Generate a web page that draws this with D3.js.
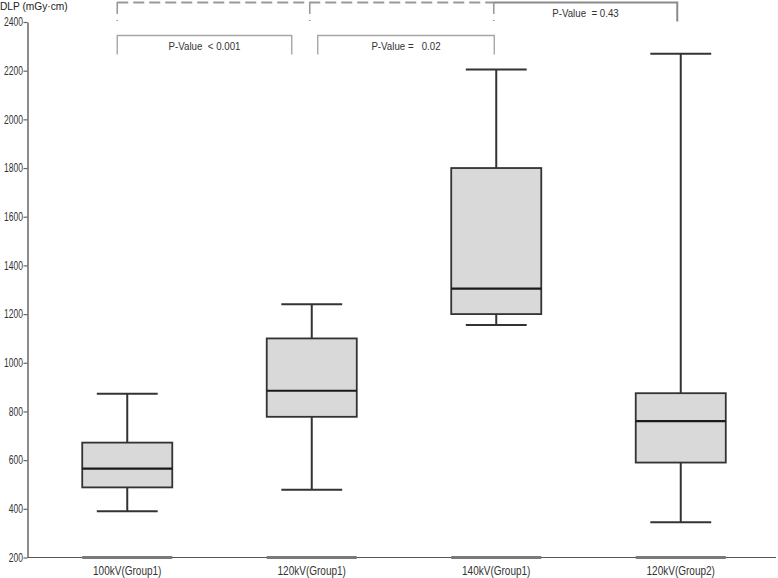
<!DOCTYPE html>
<html>
<head>
<meta charset="utf-8">
<script src="https://cdn.jsdelivr.net/npm/d3@7"></script>
<style>
  html, body { margin: 0; padding: 0; background: #fff; }
  svg { display: block; }
</style>
</head>
<body>
<svg id="chart" width="778" height="578"></svg>
<script>
// ---- Data ----
const categories = ["100kV(Group1)", "120kV(Group1)", "140kV(Group1)", "120kV(Group2)"];
const whiskerLow  = [390, 478, 1155, 345];
const q1          = [488, 778, 1200, 590];
const median      = [565, 885, 1305, 760];
const q3          = [672, 1100, 1800, 875];
const whiskerHigh = [873, 1240, 2205, 2270];
const yTicks = [200, 400, 600, 800, 1000, 1200, 1400, 1600, 1800, 2000, 2200, 2400];
const yTitle = "DLP (mGy·cm)";
const comparisonLabels = ["P-Value  < 0.001", "P-Value =   0.02", "P-Value  = 0.43"];

// ---- Setup ----
const svg = d3.select("#chart");
const x = d3.scalePoint().domain(categories).range([35, 773]).padding(0.5);
const step = x.step();
const boxW = step * 0.488;
const capW = step * 0.33;
const y = d3.scaleLinear().domain([200, 2400]).range([557.5, 22]);

const condensed = "'Liberation Sans', Arial, sans-serif";

// Y title
svg.append("text")
  .attr("x", 0).attr("y", 10)
  .attr("font-family", "'Liberation Sans', Arial, sans-serif")
  .attr("font-size", 10.2)
  .attr("fill", "#222")
  .text(yTitle);

// Y axis
const yAxis = svg.append("g")
  .attr("transform", "translate(27.5,0)")
  .call(d3.axisLeft(y).tickValues(yTicks).tickSize(4).tickSizeOuter(0).tickFormat(d3.format("d")));
yAxis.select(".domain").attr("stroke", "#666").attr("stroke-width", 1.5);
yAxis.selectAll(".tick line").attr("stroke", "#666").attr("stroke-width", 1.2);
yAxis.selectAll(".tick text")
  .attr("font-family", condensed)
  .attr("font-size", 12)
  .attr("fill", "#333")
  .attr("x", 0)
  .attr("transform", "translate(-4.5,0) scale(0.71,1)");

// X axis line
svg.append("line")
  .attr("x1", 28).attr("x2", 776)
  .attr("y1", y(200)).attr("y2", y(200))
  .attr("stroke", "#555").attr("stroke-width", 1);

const data = categories.map((c, i) => ({
  c, lo: whiskerLow[i], q1: q1[i], med: median[i], q3: q3[i], hi: whiskerHigh[i]
}));

// Thick segments on x axis under each box
svg.append("g").selectAll("line").data(data).join("line")
  .attr("x1", d => x(d.c) - boxW / 2).attr("x2", d => x(d.c) + boxW / 2)
  .attr("y1", y(200)).attr("y2", y(200))
  .attr("stroke", "#7a7a7a").attr("stroke-width", 3.2);

// X labels
svg.append("g").selectAll("text").data(data).join("text")
  .attr("x", 0).attr("y", 0)
  .attr("transform", d => `translate(${x(d.c)},575) scale(0.77,1)`)
  .attr("text-anchor", "middle")
  .attr("font-family", condensed)
  .attr("font-size", 13)
  .attr("fill", "#333")
  .text(d => d.c);

// Boxes
const g = svg.append("g").selectAll("g").data(data).join("g");
const stroke = "#333";
g.append("line")
  .attr("x1", d => x(d.c)).attr("x2", d => x(d.c))
  .attr("y1", d => y(d.hi)).attr("y2", d => y(d.q3))
  .attr("stroke", stroke).attr("stroke-width", 2);
g.append("line")
  .attr("x1", d => x(d.c)).attr("x2", d => x(d.c))
  .attr("y1", d => y(d.q1)).attr("y2", d => y(d.lo))
  .attr("stroke", stroke).attr("stroke-width", 2);
g.append("line")
  .attr("x1", d => x(d.c) - capW / 2).attr("x2", d => x(d.c) + capW / 2)
  .attr("y1", d => y(d.hi)).attr("y2", d => y(d.hi))
  .attr("stroke", stroke).attr("stroke-width", 2);
g.append("line")
  .attr("x1", d => x(d.c) - capW / 2).attr("x2", d => x(d.c) + capW / 2)
  .attr("y1", d => y(d.lo)).attr("y2", d => y(d.lo))
  .attr("stroke", stroke).attr("stroke-width", 2);
g.append("rect")
  .attr("x", d => x(d.c) - boxW / 2)
  .attr("width", boxW)
  .attr("y", d => y(d.q3))
  .attr("height", d => y(d.q1) - y(d.q3))
  .attr("fill", "#d9d9d9")
  .attr("stroke", stroke).attr("stroke-width", 1.8);
g.append("line")
  .attr("x1", d => x(d.c) - boxW / 2).attr("x2", d => x(d.c) + boxW / 2)
  .attr("y1", d => y(d.med)).attr("y2", d => y(d.med))
  .attr("stroke", "#1a1a1a").attr("stroke-width", 2.2);

// ---- Significance brackets ----
const cx = i => x(categories[i]);
const ann = svg.append("g");
const pFont = "'Liberation Sans', 'Open Sans', Arial, sans-serif";

const lowBr = [
  { a: cx(0) - 10, b: cx(1) - 20, label: comparisonLabels[0] },
  { a: cx(1) + 6, b: cx(2) - 2, label: comparisonLabels[1] }
];
lowBr.forEach(br => {
  ann.append("path")
    .attr("d", `M${br.a},54.5 V35.5 H${br.b} V54.5`)
    .attr("fill", "none").attr("stroke", "#a6a6a6").attr("stroke-width", 1.4);
  ann.append("text")
    .attr("x", 0).attr("y", 0)
    .attr("transform", `translate(${(br.a + br.b) / 2},49.5) scale(0.9,1)`)
    .attr("text-anchor", "middle")
    .attr("font-family", pFont).attr("font-size", 10.8)
    .attr("fill", "#333")
    .style("white-space", "pre")
    .text(br.label);
});

const dA = cx(0) - 10, dM = cx(1) - 2, dB = cx(2) - 2.5;
ann.append("line")
  .attr("x1", dA).attr("x2", dB).attr("y1", 2.5).attr("y2", 2.5)
  .attr("stroke", "#9a9a9a").attr("stroke-width", 2)
  .attr("stroke-dasharray", "11,5");
[dA, dM, dB].forEach(px => {
  ann.append("line")
    .attr("x1", px).attr("x2", px).attr("y1", 2).attr("y2", 21)
    .attr("stroke", "#9a9a9a").attr("stroke-width", 1.6)
    .attr("stroke-dasharray", "12,6,1.5,40");
});

const sB = cx(3) - 3.5;
ann.append("path")
  .attr("d", `M${dB},2.5 H${sB} V21.5`)
  .attr("fill", "none").attr("stroke", "#8a8a8a").attr("stroke-width", 2);
ann.append("text")
  .attr("x", 0).attr("y", 0)
  .attr("transform", `translate(${(dB + sB) / 2},16.8) scale(0.9,1)`)
  .attr("text-anchor", "middle")
  .attr("font-family", pFont).attr("font-size", 10.8)
  .attr("fill", "#333")
  .style("white-space", "pre")
  .text(comparisonLabels[2]);
</script>
</body>
</html>
